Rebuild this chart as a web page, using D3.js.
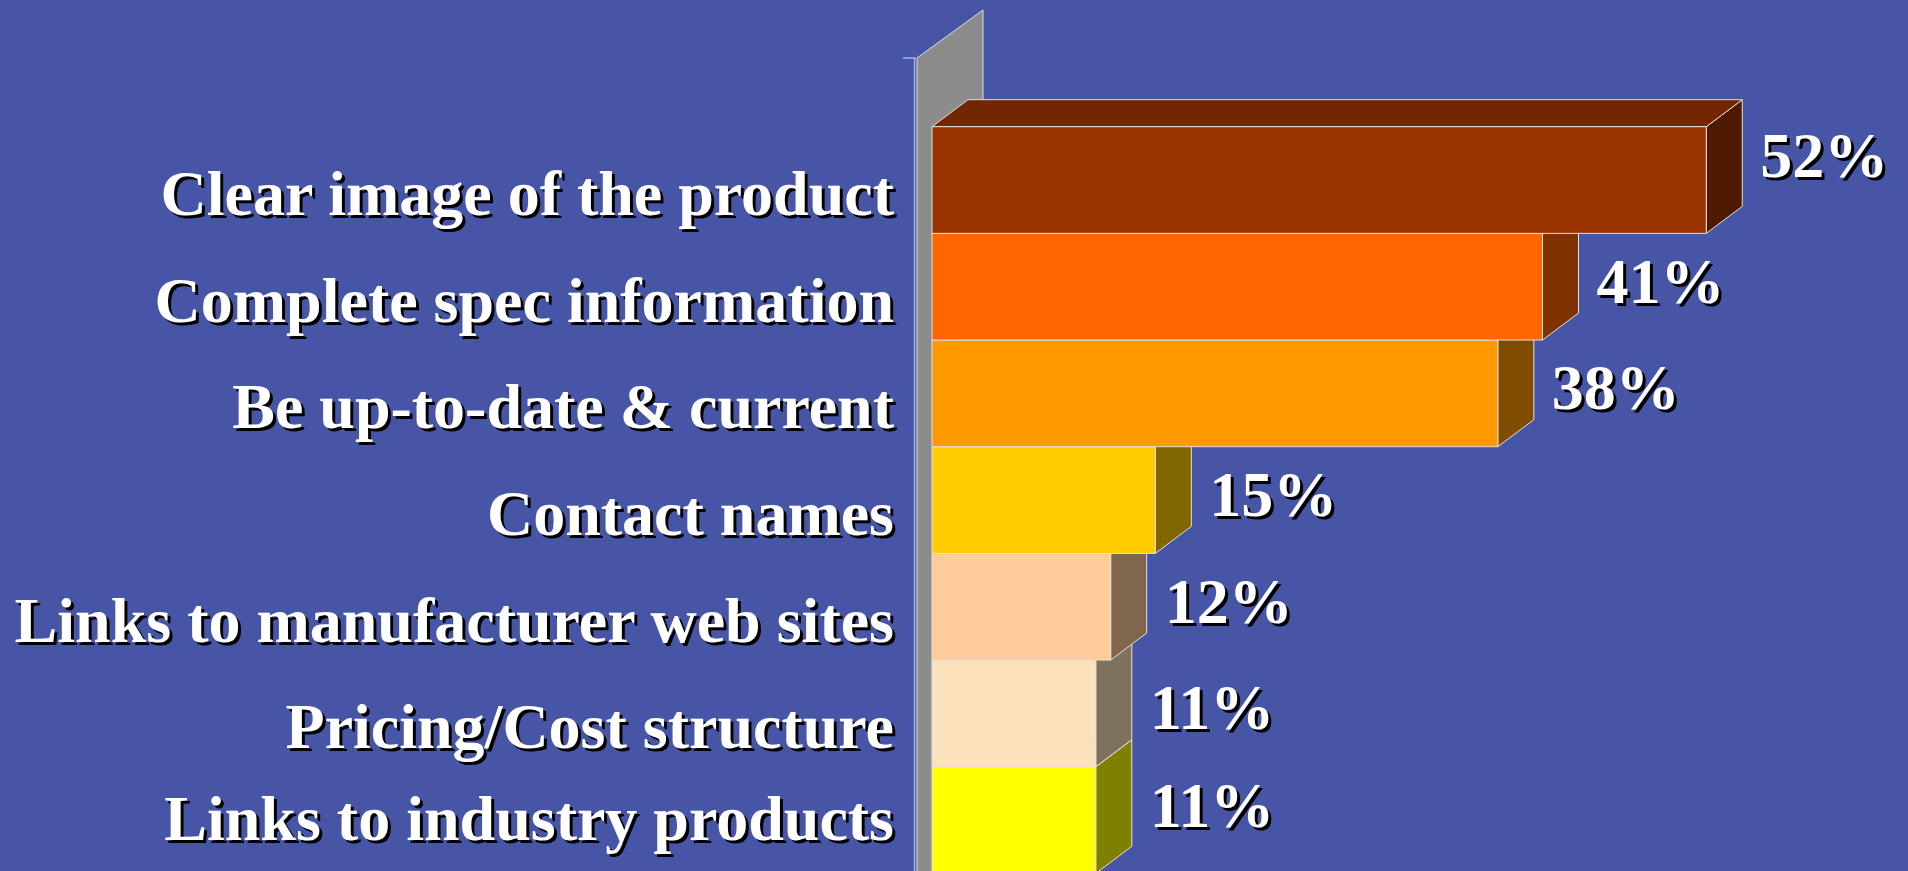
<!DOCTYPE html>
<html>
<head>
<meta charset="utf-8">
<script src="https://cdn.jsdelivr.net/npm/d3@7"></script>
<style>
  html, body { margin: 0; padding: 0; background: #4755a7; overflow: hidden; }
  svg { display: block; }
  text { font-family: "Liberation Serif", "Times New Roman", serif; font-weight: bold; }
</style>
</head>
<body>
<svg id="chart" width="1908" height="871"></svg>
<script>
// Survey answers: what people want to find on a supplier web site
const categories = [
  "Clear image of the product",
  "Complete spec information",
  "Be up-to-date & current",
  "Contact names",
  "Links to manufacturer web sites",
  "Pricing/Cost structure",
  "Links to industry products"
];
const values = [52, 41, 38, 15, 12, 11, 11];
const valueLabels = ["52%", "41%", "38%", "15%", "12%", "11%", "11%"];

// Front-face colour of each bar; side and top faces are shaded from it
const palette = ["#993300", "#ff6600", "#ff9900", "#ffcc00", "#ffcc99", "#fce2bb", "#ffff00"];

const W = 1908, H = 871;
const svg = d3.select("#chart");

svg.append("rect").attr("width", W).attr("height", H).attr("fill", "#4755a7");

const x = d3.scaleLinear().domain([0, 60]).range([932, 932 + 60 * 14.89]);
const y = d3.scaleBand().domain(categories).range([126.7, 126.7 + 7 * 106.67]).padding(0);

// oblique projection of the bar depth
const dx = 36, dy = 27;
// back wall
const wallFront = x(0) - 15, wallTop = 58, wdx = 66, wdy = 48;

const shade = (c, k) => { const r = d3.rgb(c); return d3.rgb(r.r * k, r.g * k, r.b * k).formatHex(); };
const poly = pts => "M" + pts.map(p => p.join(",")).join("L") + "Z";

svg.append("path")
  .attr("d", poly([[wallFront, H + 10], [wallFront, wallTop], [wallFront + wdx, wallTop - wdy], [wallFront + wdx, H + 10]]))
  .attr("fill", "#8c8c8c")
  .attr("stroke", "#dedede")
  .attr("stroke-width", 1);

// category axis line with its top tick
svg.append("line")
  .attr("x1", wallFront - 2.5).attr("x2", wallFront - 2.5)
  .attr("y1", wallTop).attr("y2", H)
  .attr("stroke", "#aab1e0").attr("stroke-width", 1.5);
svg.append("line")
  .attr("x1", wallFront - 14).attr("x2", wallFront - 1)
  .attr("y1", wallTop).attr("y2", wallTop)
  .attr("stroke", "#aab1e0").attr("stroke-width", 1.5);

const rows = categories.map((c, i) => ({ c, v: values[i], lab: valueLabels[i], col: palette[i] }));

// bars drawn from the bottom up so upper bars sit in front
const bars = svg.append("g")
  .selectAll("g")
  .data(rows.slice().reverse())
  .join("g");

bars.each(function (d) {
  const g = d3.select(this);
  const x0 = x(0), x1 = x(d.v);
  const t = y(d.c), b = t + y.bandwidth();
  g.append("path")
    .attr("d", poly([[x1, t], [x1 + dx, t - dy], [x1 + dx, b - dy], [x1, b]]))
    .attr("fill", shade(d.col, 0.5));
  g.append("path")
    .attr("d", poly([[x0, t], [x0 + dx, t - dy], [x1 + dx, t - dy], [x1, t]]))
    .attr("fill", shade(d.col, 0.75));
  g.append("path")
    .attr("d", poly([[x0, t], [x1, t], [x1, b], [x0, b]]))
    .attr("fill", d.col);
  g.selectAll("path")
    .attr("stroke", "#e4e0dc")
    .attr("stroke-width", 1)
    .attr("stroke-linejoin", "round");
});

function shadowText(sel, attrs) {
  ["#000000", "#ffffff"].forEach((fill, k) => {
    const off = k === 0 ? 3 : 0;
    sel.append("text")
      .attr("x", attrs.x + off)
      .attr("y", attrs.y + off)
      .attr("text-anchor", attrs.anchor)
      .attr("font-size", attrs.size)
      .attr("fill", fill)
      .text(attrs.text);
  });
}

const labels = svg.append("g");
rows.forEach((d, i) => {
  const cy = y(d.c) + y.bandwidth() / 2;
  shadowText(labels, {
    x: 894, y: Math.min(cy + 35, H - 31), anchor: "end", size: 64, text: d.c
  });
  // the top bar's label sits higher, level with its top face
  const lift = i === 0 ? 22 : 3;
  shadowText(labels, {
    x: x(d.v) + dx + 18, y: Math.min(cy + 19 - lift, H - 44), anchor: "start", size: 64, text: d.lab
  });
});
</script>
</body>
</html>
